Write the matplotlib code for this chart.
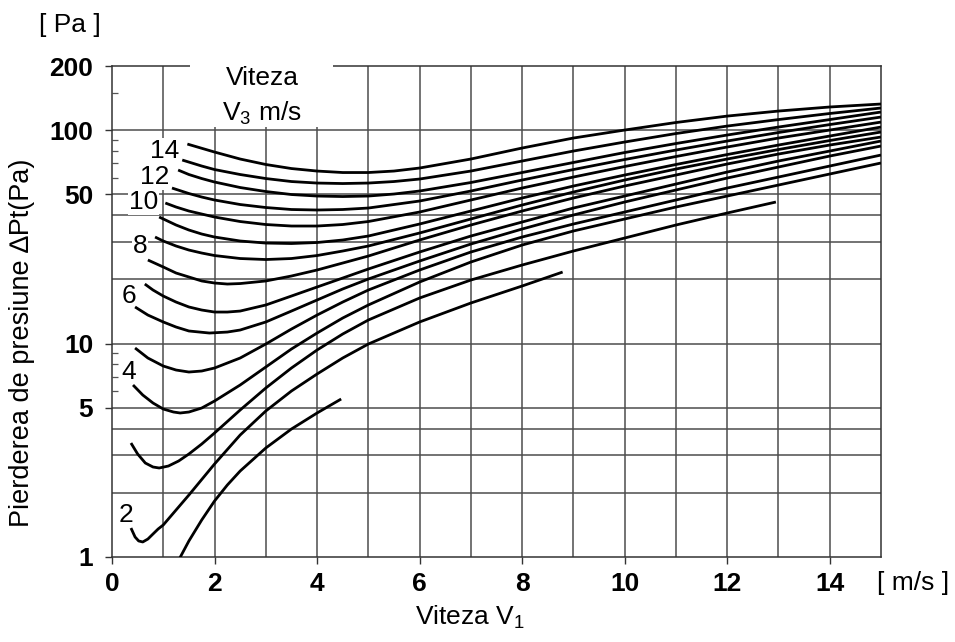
import matplotlib.pyplot as plt
from matplotlib.patches import Rectangle

plt.rcParams['font.family'] = ['Liberation Sans', 'DejaVu Sans']
plt.rcParams['mathtext.fontset'] = 'custom'
plt.rcParams['mathtext.rm'] = 'Liberation Sans'
plt.rcParams['mathtext.it'] = 'Liberation Sans'

# Pressure loss curves, one per V3 value (m/s): x = V1 (m/s), y = dPt (Pa)
v1_c1 = [1.27, 1.5, 1.75, 2, 2.25, 2.5, 3, 3.5, 4, 4.47]
dp_c1 = [0.937, 1.189, 1.491, 1.830, 2.175, 2.529, 3.242, 3.979, 4.730, 5.50]

v1_c2 = [0.37, 0.45, 0.52, 0.6, 0.7, 0.8, 0.9, 1.0, 1.25, 1.5, 2, 2.5, 3, 3.5, 4, 4.5, 5, 6, 7, 8, 8.79]
dp_c2 = [1.367, 1.241, 1.189, 1.176, 1.214, 1.282, 1.353, 1.413, 1.661, 1.952, 2.728, 3.730, 4.833,
         5.996, 7.204, 8.561, 9.956, 12.63, 15.50, 18.62, 21.65]

v1_c3 = [0.37, 0.5, 0.65, 0.8, 0.92, 1.1, 1.3, 1.5, 1.75, 2, 2.5, 3, 3.5, 4, 4.5, 5, 6, 7, 8, 9, 10, 11, 12, 12.95]
dp_c3 = [3.421, 3.039, 2.757, 2.641, 2.613, 2.669, 2.818, 3.039, 3.384, 3.811, 4.885, 6.193, 7.685,
         9.333, 11.09, 12.90, 16.36, 19.86, 23.35, 27.16, 31.25, 35.96, 40.93, 46.09]

v1_c4 = [0.41, 0.6, 0.8, 1.0, 1.2, 1.33, 1.5, 1.75, 2, 2.5, 3, 3.5, 4, 4.5, 5, 6, 7, 8, 9, 10, 11, 12, 13, 14, 15]
dp_c4 = [6.398, 5.743, 5.268, 4.937, 4.780, 4.730, 4.780, 4.991, 5.383, 6.398, 7.768, 9.434, 11.21,
         13.18, 15.17, 19.44, 24.12, 28.97, 33.71, 38.37, 43.66, 49.16, 55.36, 62.35, 70.22]

v1_c5 = [0.45, 0.7, 1.0, 1.25, 1.5, 1.75, 2, 2.5, 3, 3.5, 4, 4.5, 5, 6, 7, 8, 9, 10, 11, 12, 13, 14, 15]
dp_c5 = [9.537, 8.561, 7.852, 7.520, 7.360, 7.440, 7.685, 8.561, 9.956, 11.70, 13.61, 15.66, 17.83,
         22.13, 26.87, 31.59, 36.35, 41.37, 47.10, 53.60, 60.34, 67.96, 76.52]

v1_c6 = [0.45, 0.7, 1, 1.25, 1.5, 1.9, 2.25, 2.5, 3, 3.5, 4, 4.5, 5, 6, 7, 8, 9, 10, 11, 12, 13, 14, 15]
dp_c6 = [14.85, 13.61, 12.63, 11.96, 11.46, 11.21, 11.33, 11.58, 12.63, 14.21, 16.01, 18.03, 20.08,
         24.38, 29.29, 34.44, 40.06, 46.09, 52.47, 59.70, 67.23, 75.70, 84.33]

v1_c7 = [0.64, 0.8, 1, 1.25, 1.5, 1.75, 2, 2.25, 2.5, 3, 3.5, 4, 4.5, 5, 6, 7, 8, 9, 10, 11, 12, 13, 14, 15]
dp_c7 = [19.02, 17.83, 16.71, 15.66, 14.85, 14.37, 14.06, 14.06, 14.21, 15.17, 16.71, 18.42, 20.29,
         22.37, 26.87, 31.93, 37.14, 43.19, 49.16, 55.96, 63.70, 71.73, 79.89, 89.01]

v1_c8 = [0.7, 1, 1.25, 1.5, 1.75, 2, 2.25, 2.5, 3, 3.5, 4, 4.5, 5, 6, 7, 8, 9, 10, 11, 12, 13, 14, 15]
dp_c8 = [24.65, 22.86, 21.42, 20.52, 19.66, 19.23, 19.02, 19.12, 19.66, 20.74, 22.13, 23.86, 25.73,
         30.59, 35.96, 41.82, 48.13, 54.77, 61.67, 69.46, 77.35, 85.24, 92.94]

v1_c9 = [0.84, 1.0, 1.25, 1.5, 1.75, 2, 2.5, 3, 3.5, 4, 4.5, 5, 6, 7, 8, 9, 10, 11, 12, 13, 14, 15]
dp_c9 = [31.59, 30.26, 28.67, 27.45, 26.58, 25.87, 25.05, 24.78, 25.05, 25.87, 27.16, 28.67, 32.99,
         38.37, 44.62, 51.34, 58.43, 65.79, 73.29, 81.20, 89.48, 98.09]

v1_c10 = [0.92, 1.25, 1.5, 1.75, 2, 2.5, 3, 3.5, 4, 4.5, 5, 6, 7, 8, 9, 10, 11, 12, 13, 14, 15]
dp_c10 = [39.20, 35.96, 34.07, 32.63, 31.59, 30.26, 29.60, 29.45, 29.77, 30.59, 31.93, 36.35, 41.82,
          48.13, 54.77, 61.67, 69.09, 76.93, 85.24, 93.94, 103.5]

v1_c11 = [1.04, 1.25, 1.5, 1.75, 2, 2.5, 3, 3.5, 4, 4.5, 5, 6, 7, 8, 9, 10, 11, 12, 13, 14, 15]
dp_c11 = [45.60, 43.66, 41.82, 40.49, 39.20, 37.34, 36.15, 35.57, 35.57, 36.15, 37.34, 41.37, 47.10,
          53.60, 60.34, 67.60, 75.30, 83.43, 91.93, 100.2, 109.2]

v1_c12 = [1.17, 1.5, 1.75, 2, 2.5, 3, 3.5, 4, 4.5, 5, 6, 7, 8, 9, 10, 11, 12, 13, 14, 15]
dp_c12 = [53.60, 50.51, 48.64, 47.10, 44.86, 43.43, 42.51, 42.28, 42.51, 43.19, 46.59, 51.90, 58.43,
          65.43, 72.90, 80.76, 89.01, 97.55, 106.3, 115.3]

v1_c13 = [1.29, 1.5, 1.75, 2, 2.5, 3, 3.5, 4, 4.5, 5, 5.5, 6, 7, 8, 9, 10, 11, 12, 13, 14, 15]
dp_c13 = [65.08, 62.01, 59.38, 57.19, 53.89, 51.62, 49.97, 49.16, 48.90, 49.16, 50.24, 51.90, 56.88,
          63.36, 70.60, 78.62, 86.63, 94.96, 103.5, 112.2, 121.7]

v1_c14 = [1.37, 1.75, 2, 2.5, 3, 3.5, 4, 4.5, 5, 5.5, 6, 7, 8, 9, 10, 11, 12, 13, 14, 15]
dp_c14 = [72.51, 67.96, 65.43, 62.01, 59.38, 57.49, 56.56, 56.26, 56.56, 57.49, 59.06, 64.38, 71.73,
          79.89, 88.06, 96.49, 104.6, 112.2, 119.8, 127.1]

v1_c15 = [1.47, 2, 2.5, 3, 3.5, 4, 4.5, 5, 5.5, 6, 7, 8, 9, 10, 11, 12, 13, 14, 15]
dp_c15 = [86.15, 79.03, 73.29, 69.09, 66.14, 64.38, 63.36, 63.36, 64.38, 66.51, 73.29, 82.53, 91.93,
          100.2, 108.7, 116.5, 123.0, 128.5, 132.7]

curves = [(v1_c1, dp_c1), (v1_c2, dp_c2), (v1_c3, dp_c3), (v1_c4, dp_c4), (v1_c5, dp_c5),
          (v1_c6, dp_c6), (v1_c7, dp_c7), (v1_c8, dp_c8), (v1_c9, dp_c9), (v1_c10, dp_c10),
          (v1_c11, dp_c11), (v1_c12, dp_c12), (v1_c13, dp_c13), (v1_c14, dp_c14), (v1_c15, dp_c15)]

# curve labels (V3 values) next to the curve starts
label_text = ['2', '4', '6', '8', '10', '12', '14']
label_x = [0.27, 0.33, 0.33, 0.55, 0.62, 0.84, 1.03]
label_y = [1.573, 7.36, 16.71, 28.67, 46.09, 60.34, 79.89]

grid_x = list(range(1, 15))
grid_y = [2, 3, 4, 5, 10, 20, 30, 40, 50, 100]
yticks = [1, 5, 10, 50, 100, 200]
yminor = [6, 7, 8, 9, 60, 70, 80, 90, 150]

FS = 19
W, H = 955, 642
fig = plt.figure(figsize=(W / 100, H / 100), dpi=100)
ax = fig.add_axes([112 / W, 1 - 557 / H, (881 - 112) / W, (557 - 66) / H])
ax.set_yscale('log')
ax.set_xlim(0, 15)
ax.set_ylim(1, 200)

grid_col = '#4d4d4d'
for gx in grid_x:
    ax.axvline(gx, color=grid_col, lw=1.1, zorder=1)
for gy in grid_y:
    ax.axhline(gy, color=grid_col, lw=1.1, zorder=1)

for xs, ys in curves:
    ax.plot(xs, ys, color='black', lw=2.0, solid_capstyle='butt',
            solid_joinstyle='round', zorder=4)

for t, lx, ly in zip(label_text, label_x, label_y):
    ax.text(lx, ly, t, fontsize=FS, ha='center', va='center', zorder=3,
            bbox=dict(facecolor='white', edgecolor='none', pad=0.5))

# white box at the top holding the V3 caption
ax.add_patch(Rectangle((1.52, 103), 4.31 - 1.52, 120, facecolor='white',
                       edgecolor='none', zorder=3, clip_on=False))
ax.text(2.93, 175, 'Viteza', fontsize=FS, ha='center', va='center', zorder=5)
ax.text(2.93, 120, 'V$_3$ m/s', fontsize=FS, ha='center', va='center', zorder=5)

for s in ax.spines.values():
    s.set_color('#333333')
    s.set_linewidth(1.1)

ax.set_xticks(range(0, 15, 2))
ax.set_xticklabels([str(v) for v in range(0, 15, 2)], fontweight='bold')
ax.set_yticks(yticks)
ax.set_yticklabels([str(v) for v in yticks], fontweight='bold')
ax.set_yticks(yminor, minor=True)
ax.yaxis.set_minor_formatter(plt.NullFormatter())
ax.tick_params(axis='both', which='major', labelsize=FS, length=5, width=1.0,
               color='#333333', direction='out')
ax.tick_params(axis='x', which='major', pad=6)
ax.tick_params(axis='y', which='major', pad=8.5)
ax.tick_params(axis='y', which='minor', length=4, width=0.9, direction='in', color='#555555')

fig.text(70 / W, 1 - 25 / H, '[ Pa ]', fontsize=FS, ha='center', va='center')
fig.text(913 / W, 1 - 583 / H, '[ m/s ]', fontsize=FS, ha='center', va='center')
fig.text(470 / W, 1 - 617 / H, 'Viteza V$_1$', fontsize=FS, ha='center', va='center')
fig.text(22 / W, 1 - 343 / H, 'Pierderea de presiune \u2206Pt(Pa)', fontsize=19.5,
         rotation=90, ha='center', va='center')

fig.savefig('out.png', dpi=100, facecolor='white')
